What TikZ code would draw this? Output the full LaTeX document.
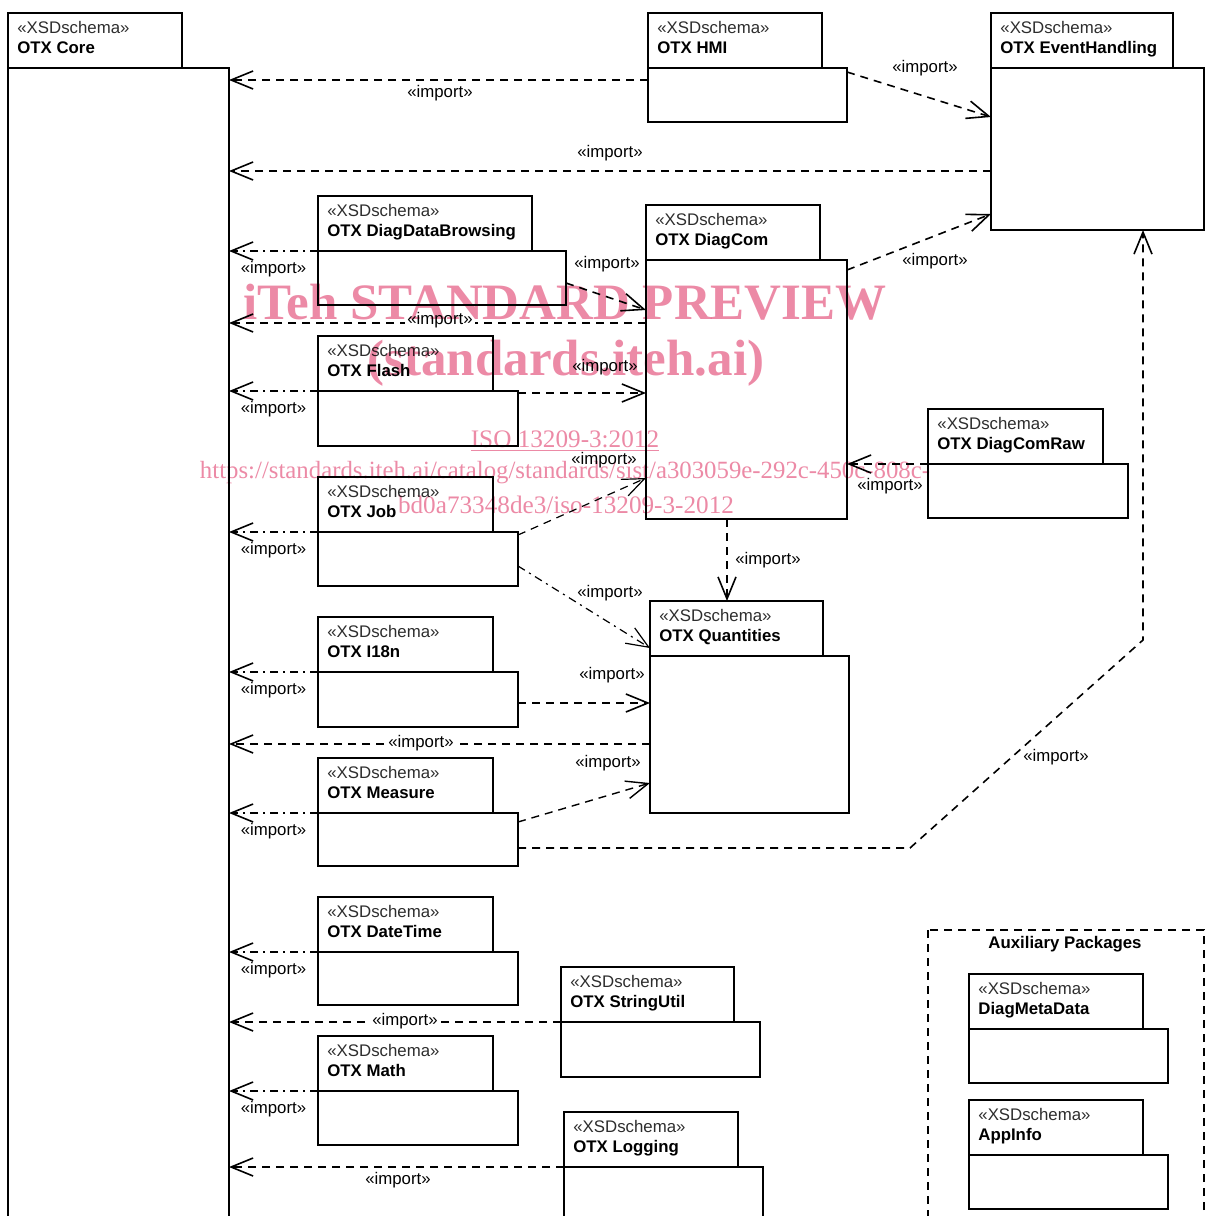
\documentclass[tikz,border=0pt]{standalone}
\usepackage{fontspec}
\setmainfont{Liberation Sans}
\newfontfamily\wmfont{Liberation Serif}
\usetikzlibrary{arrows.meta}
\definecolor{wmpink}{RGB}{236,138,166}
\definecolor{stereogray}{RGB}{45,45,45}
\tikzset{
  pkgtab/.style={draw, line width=0.9pt, anchor=north west, inner sep=0pt, outer sep=0pt, minimum height=27.5pt},
  pkgbody/.style={draw, line width=0.9pt, anchor=north west, inner sep=0pt, outer sep=0pt},
  stereo/.style={anchor=base west, inner sep=0pt, font=\fontsize{8.4}{10}\selectfont, text=stereogray},
  pkgname/.style={anchor=base west, inner sep=0pt, font=\fontsize{8.4}{10}\selectfont\bfseries},
  imp/.style={line width=0.8pt, dash pattern=on 4pt off 3pt, -{Straight Barb[length=11pt,width=9pt]}},
  impdot/.style={imp, dash pattern=on 4pt off 2.5pt on 1pt off 2.5pt},
  lbl/.style={inner sep=1pt, font=\fontsize{8.4}{10}\selectfont},
  onlbl/.style={lbl, fill=white},
  wm/.style={text=wmpink, inner sep=0pt}
}
% package: id, x, y, tab width, body width, body height, name
\newcommand\xsdpkg[7]{%
  \node[pkgtab, minimum width=#4*0.5pt] (#1t) at (#2,#3) {};
  \node[pkgbody, minimum width=#5*0.5pt, minimum height=#6*0.5pt] (#1) at (#1t.south west) {};
  \node[stereo] at ([shift={(4.5pt,-10pt)}]#1t.north west) {«XSDschema»};
  \node[pkgname] at ([shift={(4.5pt,-20pt)}]#1t.north west) {#7};
}
\begin{document}
\begin{tikzpicture}[x=0.5pt,y=-0.5pt]
\useasboundingbox (0,0) rectangle (1205,1216);
\clip (0,0) rectangle (1205,1216);

% packages
\xsdpkg{core}{8}{13}{174}{221}{1180}{OTX Core}
\xsdpkg{hmi}{648}{13}{174}{199}{54}{OTX HMI}
\xsdpkg{evh}{991}{13}{182}{213}{162}{OTX EventHandling}
\xsdpkg{ddb}{318}{196}{214}{248}{54}{OTX DiagDataBrowsing}
\xsdpkg{dcom}{646}{205}{174}{201}{259}{OTX DiagCom}
\xsdpkg{flash}{318}{336}{175}{200}{55}{OTX Flash}
\xsdpkg{job}{318}{477}{175}{200}{54}{OTX Job}
\xsdpkg{dcraw}{928}{409}{175}{200}{54}{OTX DiagComRaw}
\xsdpkg{qty}{650}{601}{173}{199}{157}{OTX Quantities}
\xsdpkg{i18n}{318}{617}{175}{200}{55}{OTX I18n}
\xsdpkg{meas}{318}{758}{175}{200}{53}{OTX Measure}
\xsdpkg{dtime}{318}{897}{175}{200}{53}{OTX DateTime}
\xsdpkg{sutil}{561}{967}{173}{199}{55}{OTX StringUtil}
\xsdpkg{math}{318}{1036}{175}{200}{54}{OTX Math}
\xsdpkg{logg}{564}{1112}{174}{199}{80}{OTX Logging}

% auxiliary packages
\draw[line width=0.8pt, dash pattern=on 4pt off 3pt] (928,930) rectangle (1204,1240);
\node[lbl, font=\fontsize{8.4}{10}\selectfont\bfseries] (auxtitle) at (1065,944) {Auxiliary Packages};
\xsdpkg{dmeta}{969}{974}{174}{199}{54}{DiagMetaData}
\xsdpkg{appinfo}{969}{1100}{174}{199}{54}{AppInfo}

% imports into OTX Core from the left column
\foreach \p in {ddb,flash,job,i18n,meas,dtime,math}
  \draw[impdot] (\p.north west) -- node[lbl, below=4pt] {«import»} (core.east |- \p.north west);

% other imports
\draw[imp] (hmi.west |- 0,80) -- (core.east |- 0,80) node[lbl] at (440,93) {«import»};
\draw[imp] (evh.west |- 0,171) -- (core.east |- 0,171) node[lbl] at (610,153) {«import»};
\draw[imp] (hmi.east |- 0,72) -- (evh.west |- 0,117) node[lbl] at (925,68) {«import»};
\draw[imp] (dcom.east |- 0,270) -- (evh.west |- 0,214) node[lbl] at (935,261) {«import»};
\draw[imp] (ddb.east |- 0,283) -- (dcom.west |- 0,310) node[lbl] at (607,264) {«import»};
\draw[imp] (dcom.west |- 0,323) -- (core.east |- 0,323) node[onlbl] at (440,320) {«import»};
\draw[imp] (flash.east |- 0,393) -- (dcom.west |- 0,393) node[lbl] at (605,367) {«import»};
\draw[imp, line width=0.6pt] (job.east |- 0,535) -- (dcom.west |- 0,478) node[lbl] at (604,460) {«import»};
\draw[imp] (dcraw.north west) -- (dcom.east |- dcraw.north west) node[lbl] at (890,486) {«import»};
\draw[imp] (dcom.south -| 727,0) -- (qtyt.north -| 727,0) node[lbl] at (768,560) {«import»};
\draw[impdot, line width=0.6pt] (job.east |- 0,566) -- (qtyt.west |- 0,648) node[lbl] at (610,593) {«import»};
\draw[imp] (i18n.east |- 0,703) -- (qty.west |- 0,703) node[lbl] at (612,675) {«import»};
\draw[imp] (qty.west |- 0,744) -- (core.east |- 0,744) node[onlbl] at (421,743) {«import»};
\draw[imp, line width=0.7pt] (meas.east |- 0,822) -- (qty.west |- 0,783) node[lbl] at (608,763) {«import»};
\coordinate (mbend1) at (910,848);
\coordinate (mbend2) at (1143,640);
\draw[imp] (meas.east |- 0,848) -- (mbend1) -- (mbend2) -- (evh.south -| 1143,0) node[lbl] at (1056,757) {«import»};
\draw[imp] (sutil.north west) -- (core.east |- sutil.north west) node[onlbl] at (405,1021) {«import»};
\draw[imp] (logg.north west) -- (core.east |- logg.north west) node[lbl] at (398,1180) {«import»};

% watermark
\begin{scope}[blend mode=multiply]
\node[wm, font=\wmfont\bfseries\fontsize{25.5}{30}\selectfont] at (565,302) {iTeh STANDARD PREVIEW};
\node[wm, font=\wmfont\bfseries\fontsize{25.5}{30}\selectfont] at (566,363) {(standards.iteh.ai)};
\node[wm, font=\wmfont\fontsize{12.6}{15}\selectfont] at (565,441) {\underline{ISO 13209-3:2012}};
\node[wm, font=\wmfont\fontsize{12.4}{15}\selectfont] at (565,473) {https://standards.iteh.ai/catalog/standards/sist/a303059e-292c-450c-808c-};
\node[wm, font=\wmfont\fontsize{12.6}{15}\selectfont] at (566,505) {bd0a73348de3/iso-13209-3-2012};
\end{scope}
\end{tikzpicture}
\end{document}
